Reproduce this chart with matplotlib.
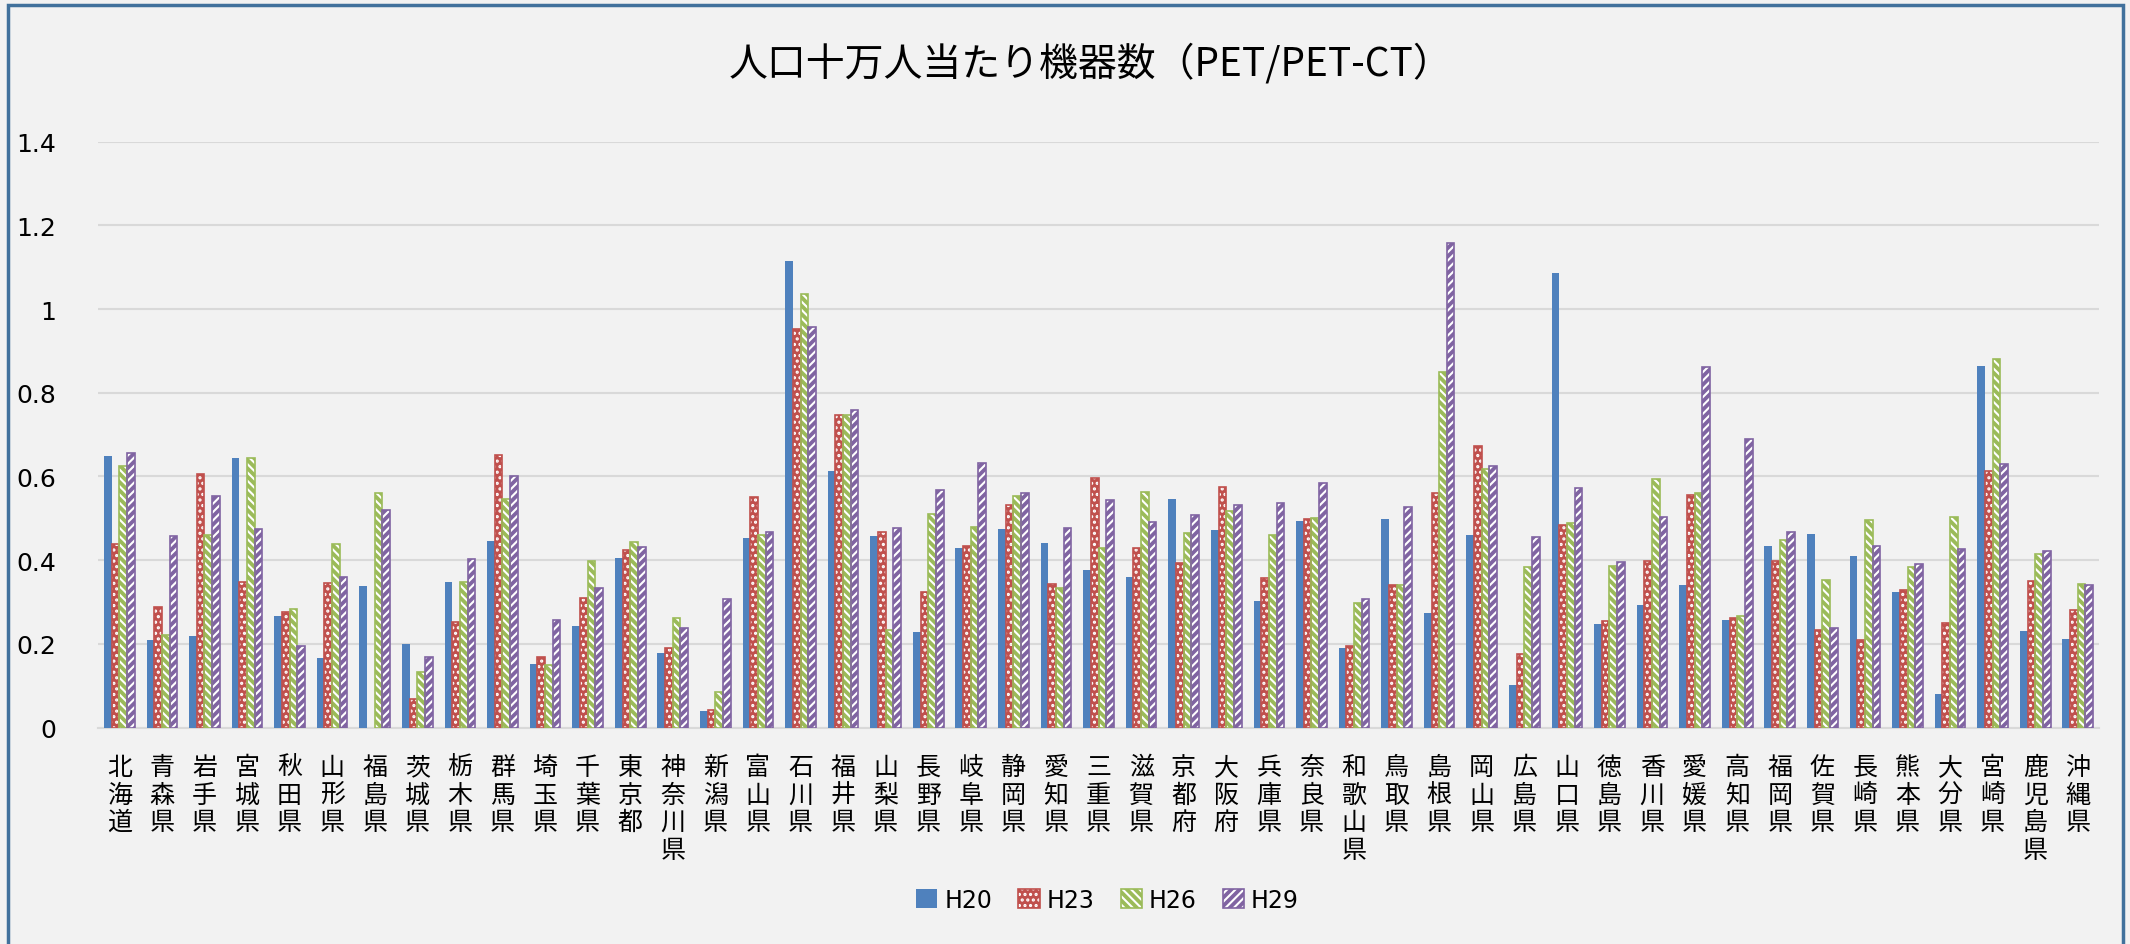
import numpy as np
import matplotlib
matplotlib.use('Agg')
import matplotlib.pyplot as plt
from matplotlib.patches import Patch, Rectangle
from matplotlib.legend_handler import HandlerTuple

plt.rcParams['font.family'] = ['Noto Sans CJK JP', 'DejaVu Sans']
plt.rcParams['hatch.linewidth'] = 1.5

# 都道府県
prefs = ['北海道', '青森県', '岩手県', '宮城県', '秋田県', '山形県', '福島県', '茨城県',
         '栃木県', '群馬県', '埼玉県', '千葉県', '東京都', '神奈川県', '新潟県', '富山県',
         '石川県', '福井県', '山梨県', '長野県', '岐阜県', '静岡県', '愛知県', '三重県',
         '滋賀県', '京都府', '大阪府', '兵庫県', '奈良県', '和歌山県', '鳥取県', '島根県',
         '岡山県', '広島県', '山口県', '徳島県', '香川県', '愛媛県', '高知県', '福岡県',
         '佐賀県', '長崎県', '熊本県', '大分県', '宮崎県', '鹿児島県', '沖縄県']

h20 = [0.648, 0.209, 0.219, 0.643, 0.266, 0.166, 0.338, 0.200, 0.348, 0.447, 0.152, 0.242,
       0.405, 0.178, 0.040, 0.452, 1.115, 0.614, 0.459, 0.228, 0.429, 0.475, 0.441, 0.376,
       0.360, 0.547, 0.471, 0.303, 0.493, 0.190, 0.499, 0.273, 0.461, 0.102, 1.086, 0.247,
       0.293, 0.340, 0.256, 0.435, 0.462, 0.409, 0.324, 0.081, 0.864, 0.230, 0.212]
h23 = [0.438, 0.289, 0.607, 0.347, 0.277, 0.345, np.nan, 0.068, 0.252, 0.652, 0.168, 0.309,
       0.425, 0.189, 0.042, 0.551, 0.952, 0.747, 0.467, 0.325, 0.435, 0.533, 0.344, 0.597,
       0.429, 0.393, 0.575, 0.358, 0.499, 0.195, 0.340, 0.561, 0.674, 0.175, 0.484, 0.254,
       0.397, 0.555, 0.263, 0.397, 0.233, 0.209, 0.328, 0.251, 0.612, 0.351, 0.280]
h26 = [0.625, 0.221, 0.460, 0.644, 0.283, 0.438, 0.560, 0.134, 0.349, 0.547, 0.150, 0.399,
       0.443, 0.262, 0.086, 0.460, 1.035, 0.747, 0.233, 0.511, 0.479, 0.554, 0.333, 0.429,
       0.563, 0.464, 0.518, 0.460, 0.500, 0.297, 0.341, 0.849, 0.618, 0.383, 0.489, 0.385,
       0.595, 0.561, 0.266, 0.449, 0.353, 0.495, 0.384, 0.503, 0.881, 0.414, 0.344]
h29 = [0.655, 0.458, 0.554, 0.475, 0.196, 0.361, 0.521, 0.169, 0.403, 0.602, 0.258, 0.333,
       0.432, 0.239, 0.307, 0.467, 0.957, 0.759, 0.477, 0.567, 0.632, 0.561, 0.477, 0.545,
       0.492, 0.508, 0.532, 0.537, 0.584, 0.308, 0.526, 1.158, 0.624, 0.456, 0.573, 0.396,
       0.504, 0.861, 0.689, 0.467, 0.239, 0.435, 0.391, 0.427, 0.629, 0.422, 0.340]

series = ['H20', 'H23', 'H26', 'H29']
data = [h20, h23, h26, h29]
yticks = [0, 0.2, 0.4, 0.6, 0.8, 1.0, 1.2, 1.4]
ytick_labels = ['0', '0.2', '0.4', '0.6', '0.8', '1', '1.2', '1.4']

colors = ['#4F81BD', '#C0504D', '#9BBB59', '#8064A2']
hatches = [None, '...', '\\\\\\\\', '////']
bg = '#F2F2F2'

fig = plt.figure(figsize=(21.3, 9.45), dpi=100, facecolor=bg)
ax = fig.add_axes([0.046, 0.229, 0.9395, 0.62])
ax.set_facecolor(bg)

x = np.arange(len(prefs))
w = 0.18
handles = []
for i, (vals, c, h) in enumerate(zip(data, colors, hatches)):
    pos = x + (i - 1.5) * w
    if h is None:
        ax.bar(pos, vals, w, color=c, linewidth=0, zorder=3)
        handles.append(Patch(facecolor=c, linewidth=0))
    else:
        # 塗り＋白いハッチ、その上に枠線
        ax.bar(pos, vals, w, facecolor=c, edgecolor='white', hatch=h, linewidth=0, zorder=3)
        ax.bar(pos, vals, w, fill=False, edgecolor=c, linewidth=1.2, zorder=4)
        handles.append((Patch(facecolor=c, edgecolor='white', hatch=h, linewidth=0),
                        Patch(fill=False, edgecolor=c, linewidth=1.2)))

ax.set_xlim(-0.5, len(prefs) - 0.5)
ax.set_ylim(0, 1.4)
ax.set_yticks(yticks)
ax.set_yticklabels(ytick_labels, fontsize=18, family=['DejaVu Sans'])
ax.set_xticks(x)
ax.set_xticklabels(['\n'.join(p) for p in prefs], fontsize=18, linespacing=1.08, va='top')
ax.tick_params(axis='both', length=0)
ax.tick_params(axis='y', pad=30)
ax.tick_params(axis='x', pad=19)
ax.yaxis.grid(True, color='#D9D9D9', linewidth=1.5, zorder=0)
ax.set_axisbelow(True)
for s in ['top', 'right', 'left']:
    ax.spines[s].set_visible(False)
ax.spines['bottom'].set_color('#D9D9D9')
ax.spines['bottom'].set_linewidth(1.5)

fig.text(0.512, 0.932, '人口十万人当たり機器数（PET/PET-CT）', ha='center', va='center', fontsize=28)

fig.legend(handles, series, loc='center', bbox_to_anchor=(0.52, 0.047), ncol=4, frameon=False,
           prop={'family': ['DejaVu Sans'], 'size': 17}, handlelength=0.9, handleheight=0.9,
           columnspacing=1.1, handletextpad=0.3,
           handler_map={tuple: HandlerTuple(ndivide=1, pad=0)})

# 外枠
fig.patches.append(Rectangle((8 / 2130, -0.02), 2115 / 2130, 1.02 - 6 / 945, transform=fig.transFigure,
                             fill=False, edgecolor='#41719C', linewidth=2.5))

fig.savefig('out.png', dpi=100, facecolor=fig.get_facecolor())
plt.close(fig)
